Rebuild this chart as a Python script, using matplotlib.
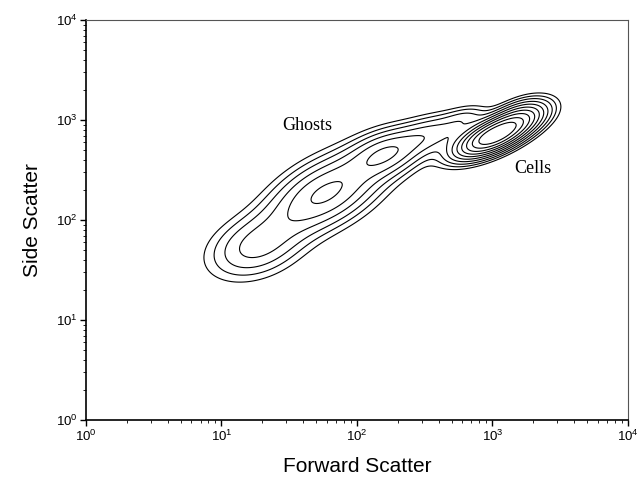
import numpy as np
import matplotlib
matplotlib.use("Agg")
import matplotlib.pyplot as plt
from matplotlib.ticker import LogLocator, LogFormatterSciNotation

plt.rcParams['font.family'] = ['Liberation Sans', 'DejaVu Sans']
plt.rcParams['mathtext.fontset'] = 'custom'
plt.rcParams['mathtext.rm'] = 'Liberation Sans'
plt.rcParams['mathtext.it'] = 'Liberation Sans'

# Population components in log10 space (FSC, SSC)
comp_names = ["ghost_tail", "ghost_core", "ghost_mid", "ghost_hi", "bridge", "cells", "cells_tail"]
comp_fsc = [1.25, 1.77, 2.22, 2.55, 2.80, 3.02, 3.22]
comp_ssc = [1.73, 2.27, 2.67, 2.86, 3.02, 2.85, 3.05]
comp_major = [0.25, 0.33, 0.19, 0.18, 0.12, 0.20, 0.15]
comp_minor = [0.18, 0.18, 0.13, 0.11, 0.07, 0.085, 0.09]
comp_angle = [38, 42, 35, 30, 30, 35, 35]
comp_weight = [0.36, 0.70, 0.55, 0.35, 0.2, 2.4, 0.5]

levels = [0.09, 0.15, 0.23, 0.34, 0.48, 0.66, 0.88, 1.15, 1.5, 1.9]

x_ticks = [1, 10, 100, 1000, 10000]
y_ticks = [1, 10, 100, 1000, 10000]

u = np.linspace(0, 4, 500)
v = np.linspace(0, 4, 500)
U, V = np.meshgrid(u, v)
Z = np.zeros_like(U)
for cu, cv, a, b, ang, w in zip(comp_fsc, comp_ssc, comp_major, comp_minor, comp_angle, comp_weight):
    t = np.deg2rad(ang)
    du, dv = U - cu, V - cv
    p = du * np.cos(t) + dv * np.sin(t)
    q = -du * np.sin(t) + dv * np.cos(t)
    Z += w * np.exp(-0.5 * ((p / a) ** 2 + (q / b) ** 2))

fig = plt.figure(figsize=(6.42, 4.8), dpi=100)
ax = fig.add_axes([0.134, 0.125, 0.844, 0.833])
ax.contour(10 ** U, 10 ** V, Z, levels=levels, colors='black', linewidths=0.8)
ax.set_xscale('log')
ax.set_yscale('log')
ax.set_xlim(1, 10000)
ax.set_ylim(1, 10000)
ax.set_xticks(x_ticks)
ax.set_yticks(y_ticks)
ax.xaxis.set_minor_locator(LogLocator(base=10, subs=np.arange(2, 10), numticks=20))
ax.yaxis.set_minor_locator(LogLocator(base=10, subs=np.arange(2, 10), numticks=20))
ax.xaxis.set_major_formatter(LogFormatterSciNotation())
ax.yaxis.set_major_formatter(LogFormatterSciNotation())
ax.tick_params(which='major', direction='out', length=4, width=1, labelsize=9.5, pad=2)
ax.tick_params(which='minor', direction='out', length=2, width=0.6)
for s in ['left', 'bottom']:
    ax.spines[s].set_linewidth(1.2)
for s in ['top', 'right']:
    ax.spines[s].set_linewidth(0.8)
    ax.spines[s].set_color('#555555')

ax.set_xlabel('Forward Scatter', fontsize=15, labelpad=10)
ax.set_ylabel('Side Scatter', fontsize=15, labelpad=10)

ax.text(10 ** 1.63, 10 ** 2.95, 'Ghosts', family='Liberation Serif', fontsize=13, ha='center', va='center')
ax.text(10 ** 3.3, 10 ** 2.52, 'Cells', family='Liberation Serif', fontsize=13, ha='center', va='center')

fig.savefig('out.png', dpi=100)
